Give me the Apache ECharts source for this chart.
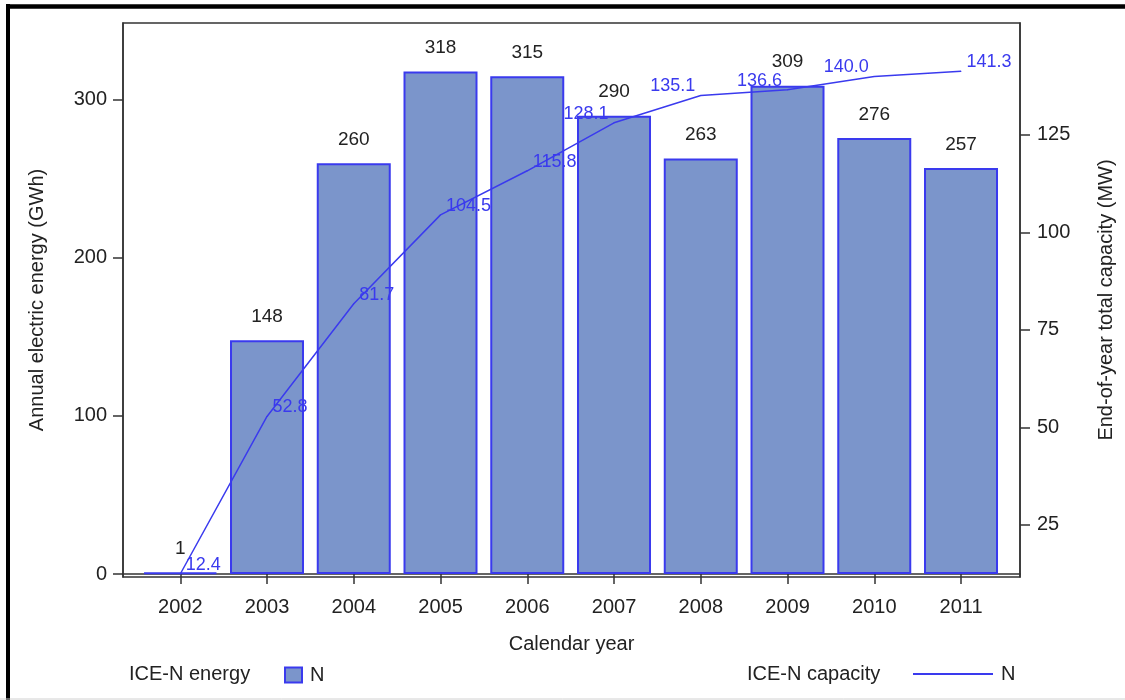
<!DOCTYPE html>
<html>
<head>
<meta charset="utf-8">
<script src="https://cdn.jsdelivr.net/npm/echarts@6/dist/echarts.min.js"></script>
<style>
html,body{margin:0;padding:0;background:#fff;}
#chart{width:1125px;height:700px;}
</style>
</head>
<body>
<div id="chart"></div>
<script>
// ---- data ----
const years = [2002, 2003, 2004, 2005, 2006, 2007, 2008, 2009, 2010, 2011];
const energyGWh = [1, 148, 260, 318, 315, 290, 263, 309, 276, 257];
const capacityMW = [12.4, 52.8, 81.7, 104.5, 115.8, 128.1, 135.1, 136.6, 140.0, 141.3];
const leftTicks = [0, 100, 200, 300];
const rightTicks = [25, 50, 75, 100, 125];
const capLabelFmt = ['12.4', '52.8', '81.7', '104.5', '115.8', '128.1', '135.1', '136.6', '140.0', '141.3'];

// ---- style ----
const FONT = 'Liberation Sans, Arial, Helvetica, sans-serif';
const AXIS = '#333';
const BAR_FILL = '#7B95CB';
const BLUE = '#3A3AEE';
const labelSide = ['right', 'right', 'right', 'right', 'right', 'left', 'left', 'left', 'left', 'right'];

const chart = echarts.init(document.getElementById('chart'), null, {renderer: 'canvas'});

const barData = years.map((y, i) => [y, energyGWh[i]]);
const lineData = years.map((y, i) => ({
  value: [y, capacityMW[i]],
  label: {position: labelSide[i], formatter: capLabelFmt[i]}
}));

const option = {
  backgroundColor: '#fff',
  animation: false,
  textStyle: {fontFamily: FONT},
  grid: {
    left: 123, top: 23, right: 105, bottom: 123,
    outerBoundsMode: 'none',
    show: true, borderColor: AXIS, borderWidth: 1.5, backgroundColor: 'transparent'
  },
  xAxis: {
    type: 'value',
    min: 2001.34, max: 2011.68,
    name: 'Calendar year', nameLocation: 'middle', nameGap: 57,
    nameTextStyle: {fontSize: 20, color: '#222', fontFamily: FONT},
    splitLine: {show: false},
    axisLine: {show: true, lineStyle: {color: AXIS, width: 1.5}},
    axisTick: {show: true, length: 10, customValues: years, lineStyle: {color: AXIS, width: 1.5}},
    axisLabel: {customValues: years, margin: 20, fontSize: 20, color: '#222', fontFamily: FONT,
      formatter: v => String(v)}
  },
  yAxis: [
    {
      type: 'value', position: 'left',
      min: -1.9, max: 348.7,
      name: 'Annual electric energy (GWh)', nameLocation: 'middle', nameGap: 76, nameRotate: 90,
      nameTextStyle: {fontSize: 20, color: '#222', fontFamily: FONT},
      splitLine: {show: false},
      axisLine: {show: true, lineStyle: {color: AXIS, width: 1.5}},
      axisTick: {show: true, length: 10, customValues: leftTicks, lineStyle: {color: AXIS, width: 1.5}},
      axisLabel: {customValues: leftTicks, margin: 16, fontSize: 20, color: '#222', fontFamily: FONT}
    },
    {
      type: 'value', position: 'right',
      min: 11.63, max: 153.7,
      name: 'End-of-year total capacity (MW)', nameLocation: 'middle', nameGap: 76, nameRotate: 90,
      nameTextStyle: {fontSize: 20, color: '#222', fontFamily: FONT},
      splitLine: {show: false},
      axisLine: {show: true, lineStyle: {color: AXIS, width: 1.5}},
      axisTick: {show: true, length: 10, customValues: rightTicks, lineStyle: {color: AXIS, width: 1.5}},
      axisLabel: {customValues: rightTicks, margin: 17, fontSize: 20, color: '#222', fontFamily: FONT}
    }
  ],
  legend: [
    {
      data: ['ICE-N energy'], left: 279, top: 660, icon: 'rect',
      itemWidth: 17, itemHeight: 15, itemGap: 0,
      itemStyle: {color: BAR_FILL, borderColor: BLUE, borderWidth: 2},
      formatter: () => 'N',
      textStyle: {fontSize: 20, color: '#222', fontFamily: FONT, padding: [0, 0, 0, 3]},
      selectedMode: false
    },
    {
      data: ['ICE-N capacity'], left: 908, top: 659, icon: 'rect',
      itemWidth: 80, itemHeight: 2, itemGap: 0,
      itemStyle: {color: BLUE, borderWidth: 0},
      formatter: () => 'N',
      textStyle: {fontSize: 20, color: '#222', fontFamily: FONT, padding: [0, 0, 0, 3]},
      selectedMode: false
    }
  ],
  graphic: [
    {type: 'text', left: 129, top: 664, style: {text: 'ICE-N energy', font: '20px ' + FONT, fill: '#222'}},
    {type: 'text', left: 747, top: 664, style: {text: 'ICE-N capacity', font: '20px ' + FONT, fill: '#222'}},
    {type: 'line', shape: {x1: 8, y1: 4, x2: 8, y2: 700}, style: {stroke: '#000', lineWidth: 4}},
    {type: 'line', shape: {x1: 6, y1: 6.5, x2: 1125, y2: 6.5}, style: {stroke: '#000', lineWidth: 4.5}},
    {type: 'line', shape: {x1: 0, y1: 699, x2: 1125, y2: 699}, style: {stroke: '#d0d0d0', lineWidth: 1}}
  ],
  series: [
    {
      name: 'ICE-N energy', type: 'bar',
      xAxisIndex: 0, yAxisIndex: 0,
      barWidth: 74,
      data: barData,
      itemStyle: {color: BAR_FILL, borderColor: BLUE, borderWidth: 2},
      label: {show: true, position: 'top', distance: 14, fontSize: 19, color: '#222', fontFamily: FONT,
        formatter: p => String(p.value[1])},
      z: 2
    },
    {
      name: 'ICE-N capacity', type: 'line',
      xAxisIndex: 0, yAxisIndex: 1,
      data: lineData,
      symbol: 'circle', symbolSize: 1, showSymbol: true,
      lineStyle: {color: BLUE, width: 1.5},
      itemStyle: {color: BLUE},
      label: {show: true, distance: 5, offset: [0, -9], fontSize: 18, color: BLUE, fontFamily: FONT},
      z: 5
    }
  ]
};
chart.setOption(option);
</script>
</body>
</html>
